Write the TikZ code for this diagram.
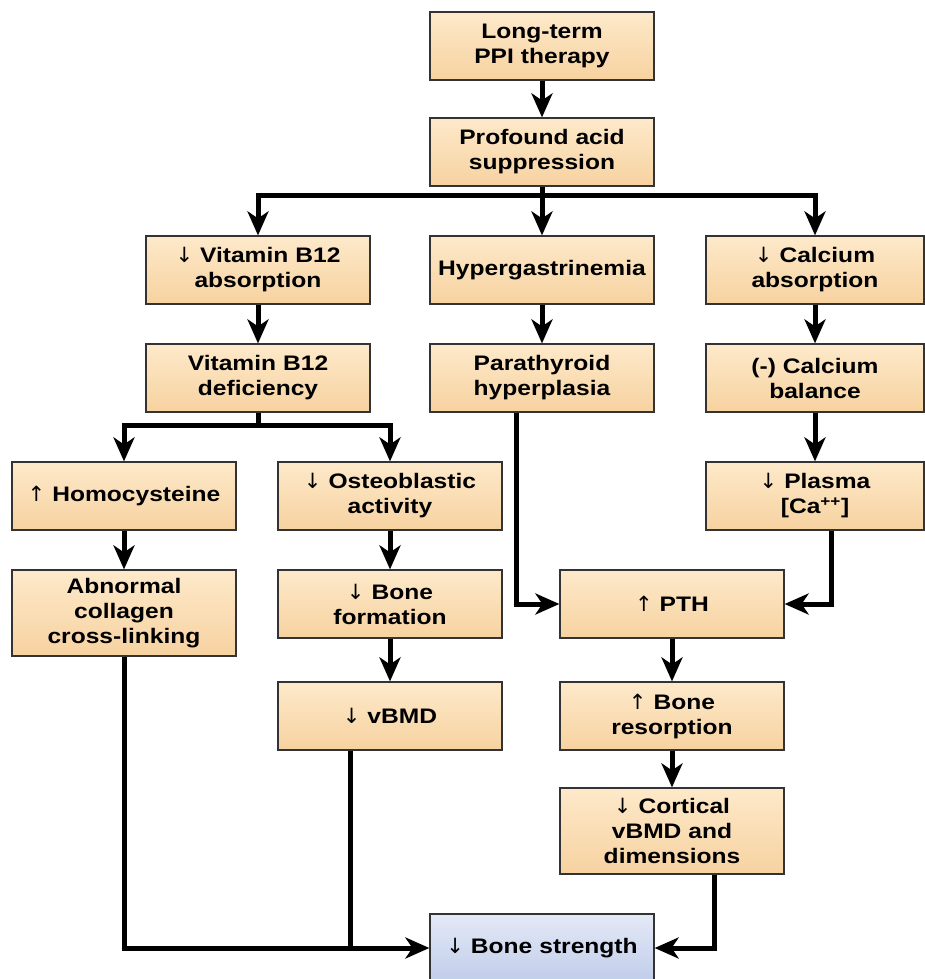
\documentclass[tikz,border=0pt]{standalone}
\usepackage{fontspec}
\usepackage{tikz}
\usetikzlibrary{arrows.meta}
\setmainfont{Liberation Sans}[FakeStretch=1.17]
\newfontfamily\arrowfont{DejaVu Sans}
\newcommand{\dnarr}{{\arrowfont\mdseries ↓}}
\newcommand{\uparr}{{\arrowfont\mdseries ↑}}
\definecolor{peachtop}{RGB}{253,233,202}
\definecolor{peachbot}{RGB}{247,210,160}
\definecolor{bluetop}{RGB}{228,233,246}
\definecolor{bluebot}{RGB}{192,205,234}

\begin{document}
\begin{tikzpicture}[x=1pt,y=-1pt,
	box/.style={draw=black!80,line width=1.2pt,top color=peachtop,bottom color=peachbot,minimum width=224pt,minimum height=68pt,text width=218pt,align=center,inner sep=0pt,font=\bfseries\fontsize{21}{25}\selectfont},
	rbox/.style={box,minimum width=218pt},
	endbox/.style={box,top color=bluetop,bottom color=bluebot},
	link/.style={line width=5pt,-{Stealth[length=24pt,width=21pt,inset=7pt]}},
	bar/.style={line width=5pt}]
	\fill[white] (0,0) rectangle (925,979);
	\useasboundingbox (0,0) rectangle (925,979);
	\node[box] (ppi) at (542,46) {Long-term\\PPI therapy};
	\node[box] (acid) at (542,152) {Profound acid\\suppression};
	\node[box] (b12abs) at (258,270) {\dnarr{} Vitamin B12\\absorption};
	\node[box] (hyper) at (542,270) {Hypergastrinemia};
	\node[rbox] (caabs) at (815,270) {\dnarr{} Calcium\\absorption};
	\node[box] (b12def) at (258,378) {Vitamin B12\\deficiency};
	\node[box] (para) at (542,378) {Parathyroid\\hyperplasia};
	\node[rbox] (cabal) at (815,378) {(-) Calcium\\balance};
	\node[box] (homo) at (124,496) {\uparr{} Homocysteine};
	\node[box] (osteo) at (390,496) {\dnarr{} Osteoblastic\\activity};
	\node[rbox] (plasma) at (815,496) {\dnarr{} Plasma\\{[}Ca\textsuperscript{++}{]}};
	\node[box,minimum height=86pt] (collagen) at (124,613) {Abnormal\\collagen\\cross-linking};
	\node[box] (bform) at (390,604) {\dnarr{} Bone\\formation};
	\node[box] (pth) at (672,604) {\uparr{} PTH};
	\node[box] (vbmd) at (390,716) {\dnarr{} vBMD};
	\node[box] (resorp) at (672,716) {\uparr{} Bone\\resorption};
	\node[box,minimum height=86pt] (cortical) at (672,831) {\dnarr{} Cortical\\vBMD and\\dimensions};
	\node[endbox] (strength) at (542,948) {\dnarr{} Bone strength};

	% straight links
	\draw[link] (ppi) -- (acid);
	\draw[link] (acid) -- (hyper);
	\draw[link] (b12abs) -- (b12def);
	\draw[link] (hyper) -- (para);
	\draw[link] (caabs) -- (cabal);
	\draw[link] (cabal) -- (plasma);
	\draw[link] (homo) -- (collagen);
	\draw[link] (osteo) -- (bform);
	\draw[link] (bform) -- (vbmd);
	\draw[link] (pth) -- (resorp);
	\draw[link] (resorp) -- (cortical);

	% forks
	\coordinate (fork1) at (542,195);
	\draw[link] (fork1) -| (b12abs);
	\draw[link] (fork1) -| (caabs);
	\coordinate (fork2) at (258,425);
	\draw[bar] (b12def) -- (fork2);
	\draw[link] (fork2) -| (homo);
	\draw[link] (fork2) -| (osteo);

	% elbows
	\draw[link] ([xshift=-26pt]para.south) |- (pth);
	\draw[link] ([xshift=16pt]plasma.south) |- (pth);
	\draw[link] (collagen) |- (strength);
	\coordinate (vb) at ([xshift=-40pt]vbmd.south);
	\draw[bar] (vb) -- (vb |- strength);
	\draw[link] ([xshift=42pt]cortical.south) |- (strength);
\end{tikzpicture}
\end{document}
